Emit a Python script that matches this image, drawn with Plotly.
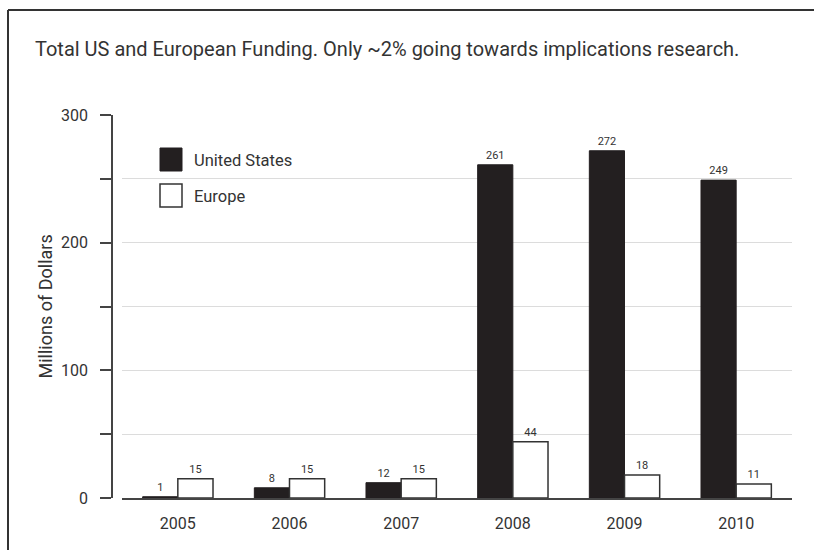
import plotly.graph_objects as go

# Annual nanotech funding, millions of dollars
years = ["2005", "2006", "2007", "2008", "2009", "2010"]
us_funding = [1, 8, 12, 261, 272, 249]
europe_funding = [15, 15, 15, 44, 18, 11]

y_ticks = [0, 100, 200, 300]
title_text = "Total US and European Funding. Only ~2% going towards implications research."
y_title = "Millions of Dollars"
series_names = ["United States", "Europe"]

FONT = "Roboto, Liberation Sans, Arial, sans-serif"
INK = "#231f20"
TXT = "#333333"

# Canvas geometry (pixels) used to place paper-referenced decorations
W, H = 814, 550
ML, MR, MT, MB = 112, 22, 115, 52
PW, PH = W - ML - MR, H - MT - MB


def px(x):
    return (x - ML) / PW


def py(y):
    return (H - MB - y) / PH


fig = go.Figure()
fig.add_trace(go.Bar(
    x=years, y=us_funding, name=series_names[0],
    marker=dict(color=INK, line=dict(color=INK, width=1)),
    text=[str(v) for v in us_funding], textposition="outside",
    textfont=dict(family=FONT, size=11, color=TXT), cliponaxis=False,
    showlegend=False,
))
fig.add_trace(go.Bar(
    x=years, y=europe_funding, name=series_names[1],
    marker=dict(color="white", line=dict(color=TXT, width=1.5)),
    text=[str(v) for v in europe_funding], textposition="outside",
    textfont=dict(family=FONT, size=11, color=TXT), cliponaxis=False,
    showlegend=False,
))

shapes = [
    # outer frame (left and top edges)
    dict(type="line", xref="paper", yref="paper", x0=px(8), x1=px(8),
         y0=py(10), y1=py(600), line=dict(color=TXT, width=2)),
    dict(type="line", xref="paper", yref="paper", x0=px(8), x1=px(900),
         y0=py(10), y1=py(10), line=dict(color=TXT, width=2)),
    # legend swatches
    dict(type="rect", xref="paper", yref="paper", x0=px(160), x1=px(182),
         y0=py(171), y1=py(148), fillcolor=INK, line=dict(color=INK, width=1)),
    dict(type="rect", xref="paper", yref="paper", x0=px(160), x1=px(182),
         y0=py(207), y1=py(184), fillcolor="white", line=dict(color=TXT, width=1.5)),
]

annotations = [
    dict(text=title_text, xref="paper", yref="paper", x=px(33), y=py(49),
         xanchor="left", yanchor="middle", showarrow=False,
         font=dict(family=FONT, size=20, color=TXT)),
    dict(text=y_title, xref="paper", yref="paper", x=px(45), y=0.5,
         xanchor="center", yanchor="middle", textangle=-90, showarrow=False,
         font=dict(family=FONT, size=18, color=TXT)),
    dict(text=series_names[0], xref="paper", yref="paper", x=px(192), y=py(160),
         xanchor="left", yanchor="middle", showarrow=False,
         font=dict(family=FONT, size=16.5, color=TXT)),
    dict(text=series_names[1], xref="paper", yref="paper", x=px(192), y=py(196),
         xanchor="left", yanchor="middle", showarrow=False,
         font=dict(family=FONT, size=16.5, color=TXT)),
]

fig.update_layout(
    width=W, height=H,
    margin=dict(l=ML, r=MR, t=MT, b=MB, pad=0),
    paper_bgcolor="white", plot_bgcolor="white",
    barmode="group", bargap=0.37, bargroupgap=0,
    font=dict(family=FONT, color=TXT),
    shapes=shapes, annotations=annotations,
    xaxis=dict(
        domain=[px(122), 1], range=[-0.5, 5.5], type="category",
        showline=True, linecolor="#444444", linewidth=1.5,
        ticks="", showgrid=False, ticklabelstandoff=10,
        tickfont=dict(family=FONT, size=16, color=TXT),
    ),
    yaxis=dict(
        anchor="free", position=0, range=[0, 300],
        tickvals=y_ticks, ticks="outside", ticklen=11, tickwidth=1.5,
        tickcolor="#444444", showline=True, linecolor="#444444", linewidth=1.5,
        showgrid=True, gridcolor="#dcdcdc", gridwidth=1.2, zeroline=False,
        ticklabelstandoff=9,
        tickfont=dict(family=FONT, size=16, color=TXT),
        minor=dict(dtick=50, ticks="outside", ticklen=11, tickwidth=1.5,
                   tickcolor="#444444", showgrid=True, gridcolor="#dcdcdc",
                   gridwidth=1.2),
    ),
)

fig.write_html("out.html")
